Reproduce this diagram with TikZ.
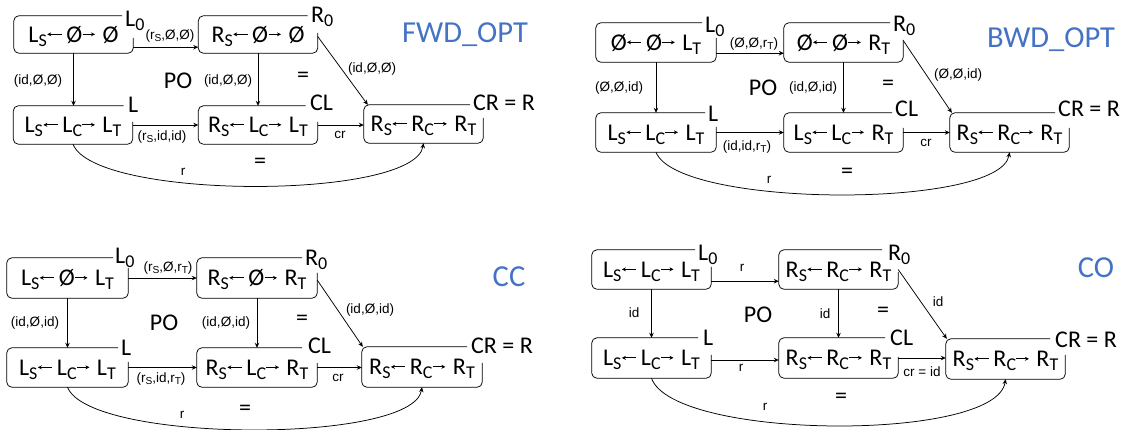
\documentclass[tikz,border=0pt]{standalone}
\usepackage{fontspec}
\setmainfont{Carlito}
\newfontfamily\arialf{Liberation Sans}
\usepackage{graphicx}
\usetikzlibrary{arrows.meta}
\definecolor{titleblue}{HTML}{4472C4}
\newcommand\sbs[1]{\raisebox{-0.17em}{\scalebox{0.75}{#1}}}
\newcommand\la{\tikz[baseline=0pt]\draw[line width=0.7pt,{Stealth[length=4pt,width=4pt]}-] (0,0.33em) -- (0.6em,0.33em);\hspace{0.18em}}
\newcommand\ra{\tikz[baseline=0pt]\draw[line width=0.7pt,-{Stealth[length=4pt,width=4pt]}] (0,0.33em) -- (0.52em,0.33em);\hspace{0.3em}}
\newcommand\oboxb[3]{\draw[boxline] ([yshift=-#3pt]#1.north east) -- (#1.south east) -- (#1.south west) -- (#1.north west) -- ([xshift=-#2pt]#1.north east);}
\tikzset{
  box/.style={minimum width=119pt, minimum height=38pt, inner sep=0pt, text height=15.5pt, text depth=0pt, font=\fontsize{24}{28}\selectfont},
  boxline/.style={line width=0.75pt, rounded corners=5pt},
  tag/.style={anchor=base west, inner sep=0pt, font=\fontsize{24}{28}\selectfont},
  elab/.style={font=\arialf\fontsize{13.5}{15}\selectfont, inner sep=0pt},
  big/.style={font=\fontsize{24}{28}\selectfont, inner sep=0pt},
  ttl/.style={font=\fontsize{30.5}{34}\selectfont, text=titleblue, inner sep=0pt},
  arr/.style={line width=0.75pt, -{Stealth[length=5pt,width=4.5pt]}},
}
\begin{document}
\begin{tikzpicture}[x=1pt,y=-1pt]
\useasboundingbox (0,0) rectangle (1126,429);
% ---------------- FWD_OPT ----------------
\node[box,minimum height=37pt] (aL0) at (73.5,34.5) {L\sbs{S}\la Ø\ra Ø};
\node[box,minimum height=37pt] (aR0) at (258,34.5) {R\sbs{S}\la Ø\ra Ø};
\node[box] (aL) at (73,125) {L\sbs{S}\la L\sbs{C}\ra L\sbs{T}};
\node[box] (aCL) at (258,125) {R\sbs{S}\la L\sbs{C}\ra L\sbs{T}};
\node[box] (aCR) at (423.5,124) {R\sbs{S}\la R\sbs{C}\ra R\sbs{T}};
\oboxb{aL0}{11}{22}
\oboxb{aR0}{10}{17}
\oboxb{aL}{9}{16}
\oboxb{aCL}{12}{16}
\oboxb{aCR}{13}{13}
\node[tag] (aL0t) at (125,26.7) {L\sbs{0}};
\node[tag] (aR0t) at (311,22.5) {R\sbs{0}};
\node[tag] (aLt) at (128,112) {L};
\node[tag] (aCLt) at (310,110) {CL};
\node[tag] (aCRt) at (473,110) {CR = R};
\draw[arr] ([yshift=6pt]aL0.south east) -- ([yshift=6pt]aR0.south west);
\draw[arr] (aL0.south) -- (aL0.south |- aL.north);
\draw[arr] (aR0.south) -- (aCL.north);
\draw[arr] (aL.east) -- (aCL.west);
\draw[arr] (aCL.east) -- (aCL.east -| aCR.west);
\draw[arr] ([yshift=-2pt]aR0.east) -- ([xshift=4pt]aCR.north west);
\draw[arr] (aL.south) .. controls +(22,56) and +(-9,57) .. (aCR.south);
\node[elab] (aE1) at (170,36) {(r\sbs{S},Ø,Ø)};
\node[elab] (aE2) at (38,81) {(id,Ø,Ø)};
\node[elab] (aE3) at (228,81) {(id,Ø,Ø)};
\node[elab] (aE4) at (162,137) {(r\sbs{S},id,id)};
\node[elab] (aE5) at (340,135) {cr};
\node[elab] (aE6) at (372,69) {(id,Ø,Ø)};
\node[elab] (aE7) at (183,172) {r};
\node[big] (aPO) at (178,81) {PO};
\node[big] (aEq1) at (303,77) {=};
\node[big] (aEq2) at (260,163) {=};
\node[ttl] (aT) at (465,35) {FWD\_OPT};
% ---------------- BWD_OPT ----------------
\node[box,minimum width=120pt,minimum height=39pt] (bL0) at (656,42.5) {Ø\la Ø\ra L\sbs{T}};
\node[box,minimum height=39pt] (bR0) at (843.5,42.5) {Ø\la Ø\ra R\sbs{T}};
\node[box,minimum width=120pt,minimum height=39pt] (bL) at (656,132.5) {L\sbs{S}\la L\sbs{C}\ra L\sbs{T}};
\node[box,minimum height=39pt] (bCL) at (843.5,132.5) {L\sbs{S}\la L\sbs{C}\ra R\sbs{T}};
\node[box,minimum height=39pt] (bCR) at (1009.5,132.5) {R\sbs{S}\la R\sbs{C}\ra R\sbs{T}};
\oboxb{bL0}{14}{15}
\oboxb{bR0}{13}{17}
\oboxb{bL}{11}{14}
\oboxb{bCL}{11}{15}
\oboxb{bCR}{14}{15}
\node[tag] (bL0t) at (705,32.3) {L\sbs{0}};
\node[tag] (bR0t) at (893,31.7) {R\sbs{0}};
\node[tag] (bLt) at (708,121.7) {L};
\node[tag] (bCLt) at (895,116.7) {CL};
\node[tag] (bCRt) at (1058,116.7) {CR = R};
\draw[arr] ([yshift=9pt]bL0.south east) -- ([yshift=9pt]bR0.south west);
\draw[arr] (bL0.south) -- (bL.north);
\draw[arr] (bR0.south) -- (bCL.north);
\draw[arr] (bL.east) -- (bCL.west);
\draw[arr] (bCL.east) -- (bCR.west);
\draw[arr] ([yshift=2pt]bR0.east) -- ([xshift=2pt]bCR.north west);
\draw[arr] (bL.south) .. controls +(22,56) and +(-9,57) .. (bCR.south);
\node[elab] (bE1) at (754,44) {(Ø,Ø,r\sbs{T})};
\node[elab] (bE2) at (619,88) {(Ø,Ø,id)};
\node[elab] (bE3) at (813,88) {(id,Ø,id)};
\node[elab] (bE4) at (747,147) {(id,id,r\sbs{T})};
\node[elab] (bE5) at (926,143) {cr};
\node[elab] (bE6) at (958,75) {(Ø,Ø,id)};
\node[elab] (bE7) at (769,180) {r};
\node[big] (bPO) at (763,88) {PO};
\node[big] (bEq1) at (888,85) {=};
\node[big] (bEq2) at (847,173) {=};
\node[ttl] (bT) at (1051,40) {BWD\_OPT};
% ---------------- CC ----------------
\node[box,minimum width=121pt,minimum height=40pt] (cL0) at (67.5,278) {L\sbs{S}\la Ø\ra L\sbs{T}};
\node[box,minimum width=120pt,minimum height=40pt] (cR0) at (257,278) {R\sbs{S}\la Ø\ra R\sbs{T}};
\node[box,minimum width=121pt,minimum height=39pt] (cL) at (67.5,367.5) {L\sbs{S}\la L\sbs{C}\ra L\sbs{T}};
\node[box,minimum width=120pt,minimum height=39pt] (cCL) at (257,367.5) {R\sbs{S}\la L\sbs{C}\ra R\sbs{T}};
\node[box,minimum width=120pt,minimum height=40pt] (cCR) at (422,367) {R\sbs{S}\la R\sbs{C}\ra R\sbs{T}};
\oboxb{cL0}{15}{10}
\oboxb{cR0}{15}{15}
\oboxb{cL}{10}{14}
\oboxb{cCL}{15}{15}
\oboxb{cCR}{15}{16}
\node[tag] (cL0t) at (115,263) {L\sbs{0}};
\node[tag] (cR0t) at (305,265) {R\sbs{0}};
\node[tag] (cLt) at (121,355) {L};
\node[tag] (cCLt) at (308,353) {CL};
\node[tag] (cCRt) at (471,353) {CR = R};
\draw[arr] (cL0.east) -- (cR0.west);
\draw[arr] (cL0.south) -- (cL.north);
\draw[arr] (cR0.south) -- (cCL.north);
\draw[arr] (cL.east) -- (cCL.west);
\draw[arr] (cCL.east) -- (cCL.east -| cCR.west);
\draw[arr] ([yshift=-2pt]cR0.east) -- ([xshift=1pt]cCR.north west);
\draw[arr] (cL.south) .. controls +(22,56) and +(-9,57) .. (cCR.south);
\node[elab] (cE1) at (168,268) {(r\sbs{S},Ø,r\sbs{T})};
\node[elab] (cE2) at (35,323) {(id,Ø,id)};
\node[elab] (cE3) at (226,323) {(id,Ø,id)};
\node[elab] (cE4) at (161,379) {(r\sbs{S},id,r\sbs{T})};
\node[elab] (cE5) at (338,378) {cr};
\node[elab] (cE6) at (370,310) {(id,Ø,id)};
\node[elab] (cE7) at (182,415) {r};
\node[big] (cPO) at (164,323) {PO};
\node[big] (cEq1) at (302,320) {=};
\node[big] (cEq2) at (245,410) {=};
\node[ttl] (cT) at (509,277) {CC};
% ---------------- CO ----------------
\node[box,minimum height=39pt] (dL0) at (651.5,269.5) {L\sbs{S}\la L\sbs{C}\ra L\sbs{T}};
\node[box,minimum height=39pt] (dR0) at (838.5,269.5) {R\sbs{S}\la R\sbs{C}\ra R\sbs{T}};
\node[box,minimum height=40pt] (dL) at (651.5,358) {L\sbs{S}\la L\sbs{C}\ra L\sbs{T}};
\node[box,minimum height=40pt] (dCL) at (838.5,358) {R\sbs{S}\la R\sbs{C}\ra R\sbs{T}};
\node[box,minimum height=40pt] (dCR) at (1005.5,359) {R\sbs{S}\la R\sbs{C}\ra R\sbs{T}};
\oboxb{dL0}{16}{17}
\oboxb{dR0}{16}{22}
\oboxb{dL}{13}{17}
\oboxb{dCL}{13}{19}
\oboxb{dCR}{15}{16}
\node[tag] (dL0t) at (698,260) {L\sbs{0}};
\node[tag] (dR0t) at (888,260) {R\sbs{0}};
\node[tag] (dLt) at (703,345) {L};
\node[tag] (dCLt) at (890,345) {CL};
\node[tag] (dCRt) at (1055,347) {CR = R};
\draw[arr] ([yshift=8pt]dL0.south east) -- ([yshift=8pt]dR0.south west);
\draw[arr] (dL0.south) -- (dL.north);
\draw[arr] (dR0.south) -- (dCL.north);
\draw[arr] ([yshift=-2pt]dL.east) -- ([yshift=-2pt]dCL.west);
\draw[arr] (dCL.east) -- (dCL.east -| dCR.west);
\draw[arr] (dR0.east) -- ([xshift=1pt]dCR.north west);
\draw[arr] (dL.south) .. controls +(22,62) and +(-9,63) .. (dCR.south);
\node[elab] (dE1) at (742,268) {r};
\node[elab] (dE2) at (634,313) {id};
\node[elab] (dE3) at (825,314) {id};
\node[elab] (dE4) at (741,368) {r};
\node[elab] (dE5) at (922,372) {cr = id};
\node[elab] (dE6) at (938,302) {id};
\node[elab] (dE7) at (765,407) {r};
\node[big] (dPO) at (758,315) {PO};
\node[big] (dEq1) at (883,312) {=};
\node[big] (dEq2) at (841,398) {=};
\node[ttl] (dT) at (1096,268) {CO};
\end{tikzpicture}
\end{document}
